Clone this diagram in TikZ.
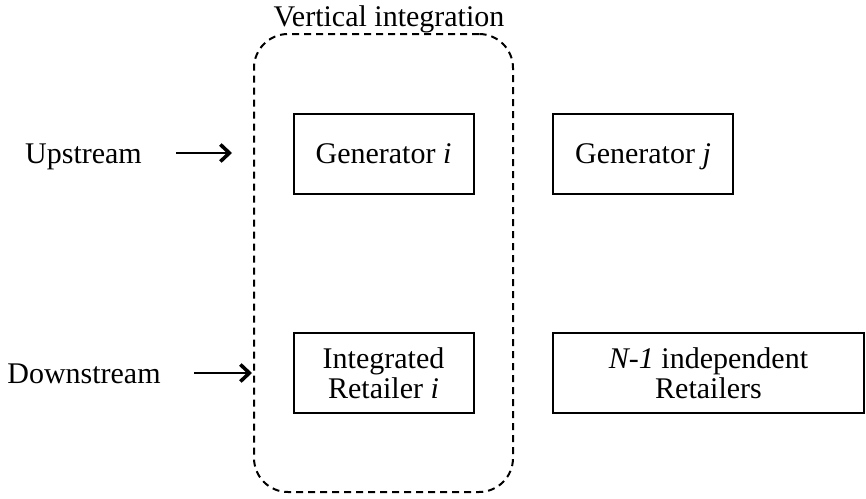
\documentclass[tikz,border=0pt]{standalone}
\usepackage{fontspec}
\setmainfont{Liberation Serif}
\usetikzlibrary{positioning,arrows.meta}

\begin{document}
\begin{tikzpicture}[x=1pt,y=-1pt,
	bstyle/.style={draw, line width=2pt, minimum height=80pt, 
	align=center, font=\fontsize{30}{30}\selectfont},
	gstyle/.style={bstyle, text height=24pt, text depth=4pt},
	lstyle/.style={font=\fontsize{30}{30}\selectfont, 
	text height=24pt, text depth=4pt},
	vstyle/.style={draw, dash pattern=on 7pt off 5pt, line width=2pt,
	rounded corners=34pt, minimum width=259pt, minimum height=458pt},
	astyle/.style={line width=2.2pt, 
	-{Straight Barb[length=9pt,width=17pt,line width=3.6pt]}}
	]
	\useasboundingbox (0,0) rectangle (866,498);
	
	\node[vstyle] (vi) at (383.5,263) {};
	\node[lstyle, anchor=base, text height=, text depth=] (vitext) 
	at (389,26) {Vertical integration};
	
	\node[gstyle, minimum width=180pt] (geni) at (383.5,153.5) {Generator \textit{i}};
	\node[gstyle, minimum width=180pt] (genj) at (643,153.5) {Generator \textit{j}};
	\node[bstyle, minimum width=180pt] (reti) at (383.5,373) 
	{Integrated\\Retailer \textit{i}};
	\node[bstyle, minimum width=311pt] (indep) at (708.5,373) 
	{\textit{N-1} independent\\Retailers};
	
	\node[lstyle] (up) at (83.5,153) {Upstream};
	\node[lstyle] (down) at (84,373) {Downstream};
	
	\draw[astyle, shorten <=31pt, shorten >=21pt] 
	(up.east) -- (up.east -| vi.west);
	\draw[astyle, shorten <=30pt, shorten >=1pt] 
	(down.east) -- (down.east -| vi.west);
\end{tikzpicture}
\end{document}
